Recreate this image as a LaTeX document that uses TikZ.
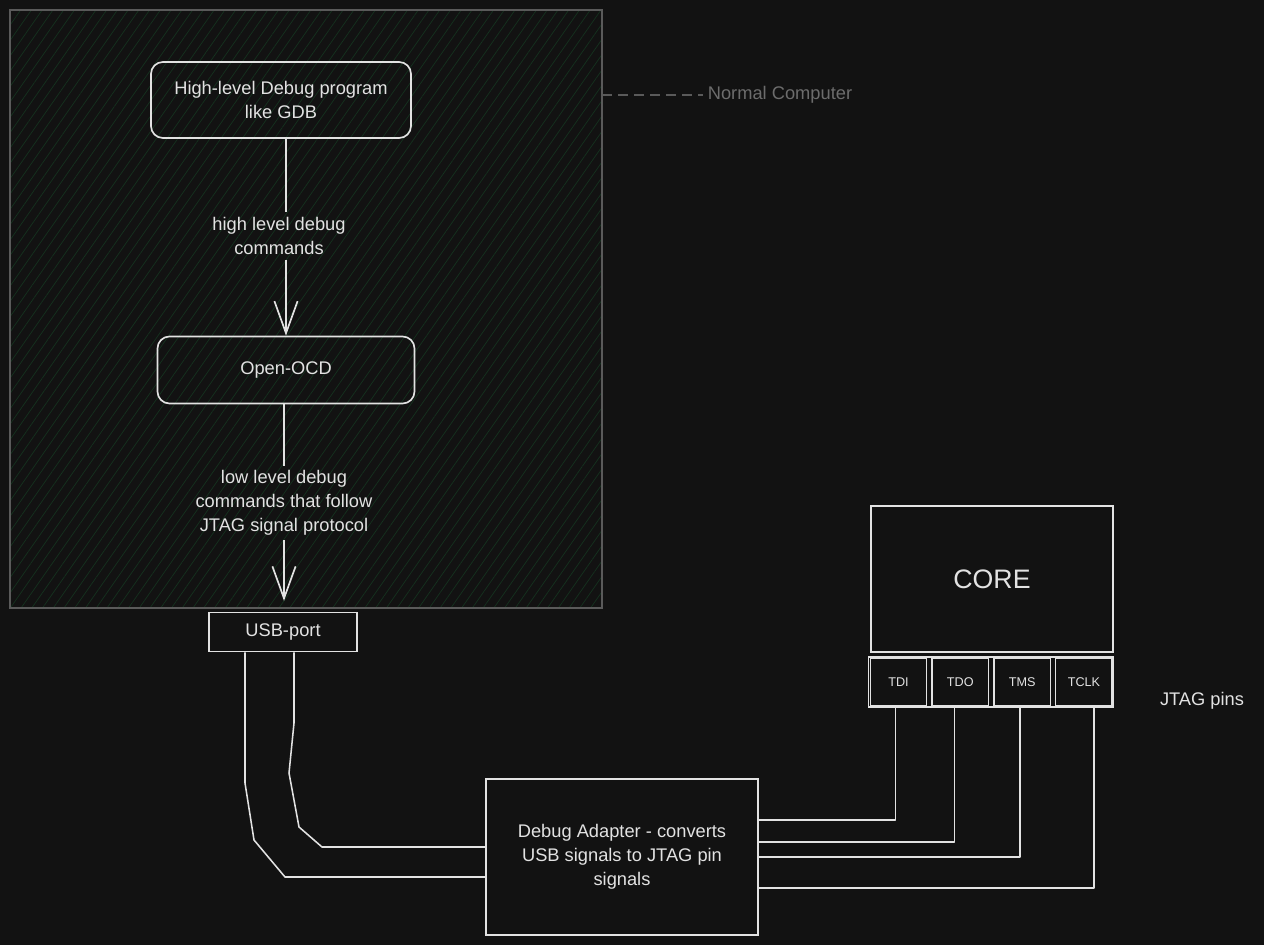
\documentclass[tikz,border=0pt]{standalone}
\usepackage{fontspec}
\setmainfont{Liberation Sans}
\usetikzlibrary{arrows.meta, positioning, fit, patterns.meta}
\definecolor{cBack}{HTML}{121212}
\definecolor{cLine}{HTML}{E2E2E2}
\definecolor{cFrame}{HTML}{5A5A5A}
\definecolor{cHatch}{HTML}{15321F}
\definecolor{tMuted}{HTML}{6C6C6C}

\begin{document}
\begin{tikzpicture}[
    x=0.025cm, y=-0.025cm,
    font=\fontsize{13}{17}\selectfont,
    text=cLine,
    node distance=0.1cm,
    block/.style={
        draw=cLine,
        line width=1.2pt,
        rounded corners=#1,
        align=center,
        inner sep=4pt
    },
    block/.default=0pt,
    pin/.style={draw=cLine, line width=1pt, minimum width=1.41cm, minimum height=1.18cm,
        font=\fontsize{9}{11}\selectfont},
    link/.style={line width=1.2pt, color=cLine},
    arrow/.style={link, -{Straight Barb[length=0.8cm, width=0.58cm]}},
    wire/.style={line width=1.1pt, color=cLine, line join=round}
]

% canvas
\fill[cBack] (0,0) rectangle (1264,945);
\useasboundingbox (0,0) rectangle (1264,945);

% host machine
\node[draw=cFrame, line width=1pt, pattern={Lines[angle=55, distance=0.22cm, line width=0.5pt]},
      pattern color=cHatch, minimum width=14.8cm, minimum height=14.95cm] (computer) at (306,309) {};

\node[text=tMuted] (normal) at (780,95) {Normal Computer};
\draw[cFrame, line width=1pt, dash pattern=on 0.25cm off 0.15cm] (computer.east |- normal) -- (normal.west);

\node[block=0.3cm, minimum width=6.5cm, minimum height=1.9cm] (gdb) at (281,100) {
    High-level Debug program\\
    like GDB
};

\node[align=center] (cmdhigh) at (279,236) {high level debug\\commands};

\node[block=0.3cm, minimum width=6.425cm, minimum height=1.675cm] (ocd) at (286,370) {Open-OCD};

\node[align=center] (cmdlow) at (284,503) {
    low level debug\\
    commands that follow\\
    JTAG signal protocol
};

\node[block, minimum width=3.7cm, minimum height=0.975cm] (usb) at (283,632) {USB-port};

\draw[link] (gdb.south -| ocd) -- (cmdhigh.north -| ocd);
\draw[arrow] (cmdhigh.south -| ocd) -- (ocd.north);
\draw[link] (ocd.south -| cmdlow) -- (cmdlow.north);
\draw[arrow, shorten >=0.27cm] (cmdlow.south) -- (cmdlow.south |- usb.north);

% adapter
\node[block, minimum width=6.8cm, minimum height=3.9cm] (adapter) at (622,857) {
    Debug Adapter - converts\\
    USB signals to JTAG pin\\
    signals
};

% usb cable
\draw[wire] ([xshift=-0.95cm]usb.south) -- (245,783) -- (254,840) -- (285,877) -- (adapter.west |- 0,877);
\draw[wire] ([xshift=0.275cm]usb.south) -- (294,723) -- (289,773) -- (299,827) -- (322,847) -- (adapter.west |- 0,847);

% target
\node[block, minimum width=6.05cm, minimum height=3.65cm, font=\fontsize{19}{22}\selectfont] (core) at (992,579) {CORE};

\node[pin] (tdi) at (898.5,682) {TDI};
\node[pin, right=of tdi] (tdo) {TDO};
\node[pin, right=of tdo] (tms) {TMS};
\node[pin, right=of tms] (tclk) {TCLK};
\node[draw=cLine, line width=1pt, fit=(tdi)(tclk), inner sep=0.6pt] (pins) {};

\node (jtag) at (1202,701) {JTAG pins};

\draw[wire] ([xshift=-0.08cm]tdi.south) |- (adapter.east |- 0,820);
\draw[wire] ([xshift=-0.15cm]tdo.south) |- (adapter.east |- 0,842);
\draw[wire] ([xshift=-0.05cm]tms.south) |- (adapter.east |- 0,857);
\draw[wire] ([xshift=0.25cm]tclk.south) |- (adapter.east |- 0,888);

\end{tikzpicture}
\end{document}
